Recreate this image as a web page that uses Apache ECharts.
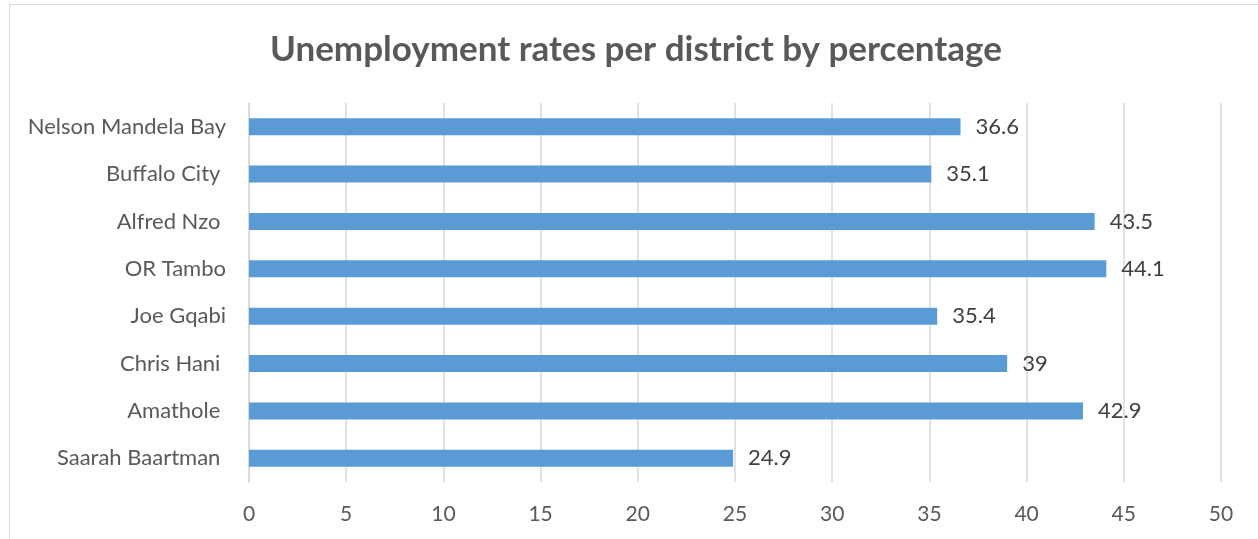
<!DOCTYPE html>
<html>
<head>
<meta charset="utf-8">
<script src="https://cdn.jsdelivr.net/npm/echarts@6/dist/echarts.min.js"></script>
<style>
  html, body { margin: 0; padding: 0; background: #fff; }
  #chart { width: 1258px; height: 539px; }
</style>
</head>
<body>
<div id="chart"></div>
<script>
// Districts, listed bottom to top as drawn on the category axis
const districts = [
  'Saarah Baartman ',
  'Amathole ',
  'Chris Hani ',
  'Joe Gqabi',
  'OR Tambo',
  'Alfred Nzo ',
  'Buffalo City ',
  'Nelson Mandela Bay'
];
// Unemployment rate (%) per district
const rates = [24.9, 42.9, 39, 35.4, 44.1, 43.5, 35.1, 36.6];

const chart = echarts.init(document.getElementById('chart'));
const textColor = '#595959';
const font = 'Lato, "Open Sans", sans-serif';

chart.setOption({
  animation: false,
  backgroundColor: '#ffffff',
  title: {
    text: 'Unemployment rates per district by percentage',
    left: 631,
    top: 27,
    textAlign: 'center',
    textStyle: { fontFamily: font, fontSize: 35, fontWeight: 'bold', color: textColor }
  },
  graphic: [{
    type: 'rect',
    shape: { x: 9.5, y: 4.5, width: 1400, height: 700 },
    style: { fill: 'none', stroke: '#D9D9D9', lineWidth: 1 },
    silent: true
  }],
  grid: { left: 249, right: 37, top: 103, bottom: 57, containLabel: false },
  xAxis: {
    type: 'value',
    min: 0,
    max: 50,
    interval: 5,
    axisLine: { show: false },
    axisTick: { show: false },
    axisLabel: { fontFamily: font, fontSize: 21, color: textColor, margin: 22 },
    splitLine: { show: true, lineStyle: { color: '#D9D9D9', width: 1.5 } }
  },
  yAxis: {
    type: 'category',
    data: districts,
    axisLine: { show: true, lineStyle: { color: '#D9D9D9', width: 1.5 } },
    axisTick: { show: false },
    axisLabel: { fontFamily: font, fontSize: 22, color: textColor, margin: 23 }
  },
  series: [{
    type: 'bar',
    data: rates,
    barWidth: 17,
    itemStyle: { color: '#5B9BD5' },
    label: {
      show: true,
      position: 'right',
      distance: 15,
      fontFamily: font,
      fontSize: 22,
      color: '#404040'
    }
  }]
});
</script>
</body>
</html>
